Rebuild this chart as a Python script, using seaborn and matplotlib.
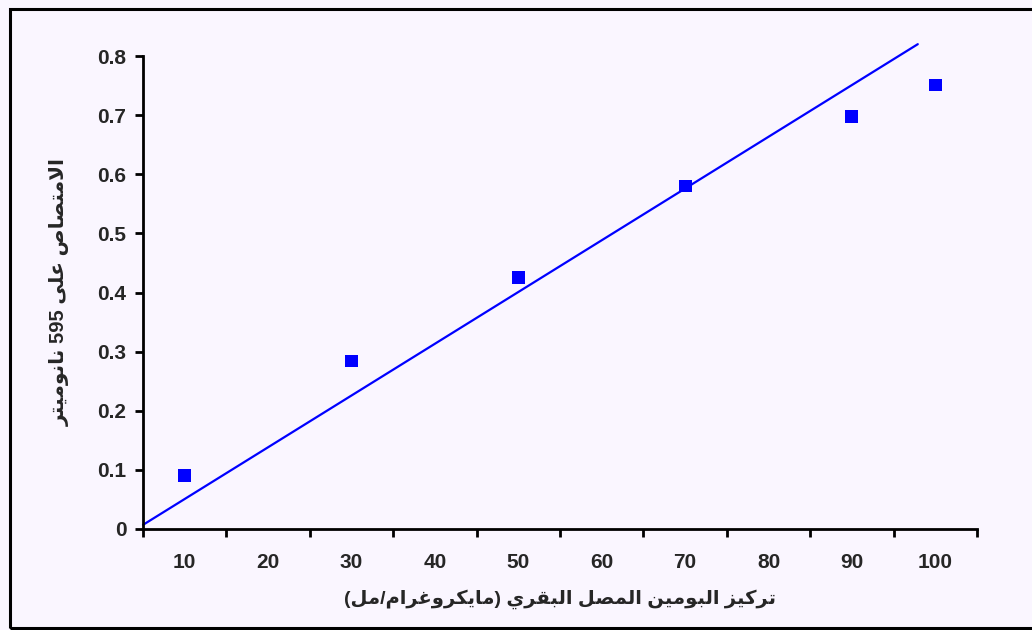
import re
import numpy as np
import pandas as pd
import matplotlib
matplotlib.use("Agg")
import matplotlib.pyplot as plt
from matplotlib.patches import Rectangle
from matplotlib.ticker import FixedLocator, FixedFormatter, NullFormatter
import seaborn as sns

# -------------------- DATOS --------------------
concentration = [10, 30, 50, 70, 90, 100]
absorbance = [0.09, 0.284, 0.426, 0.58, 0.697, 0.751]

trend_x = [5.0, 97.9]
trend_y = [0.007, 0.82]

x_tick_labels = ["10", "20", "30", "40", "50", "60", "70", "80", "90", "100"]
y_tick_values = [0, 0.1, 0.2, 0.3, 0.4, 0.5, 0.6, 0.7, 0.8]
y_tick_labels = ["0", "0.1", "0.2", "0.3", "0.4", "0.5", "0.6", "0.7", "0.8"]

x_title = "تركيز البومين المصل البقري (مايكروغرام/مل)"
y_title = "الامتصاص على 595 نانوميتر"

# -------------------- ARABIC SHAPING --------------------
# isolated, final, initial, medial
FORMS = {
    "ا": (0xFE8D, 0xFE8E, None, None),
    "أ": (0xFE83, 0xFE84, None, None),
    "إ": (0xFE87, 0xFE88, None, None),
    "ب": (0xFE8F, 0xFE90, 0xFE91, 0xFE92),
    "ت": (0xFE95, 0xFE96, 0xFE97, 0xFE98),
    "ر": (0xFEAD, 0xFEAE, None, None),
    "ز": (0xFEAF, 0xFEB0, None, None),
    "ص": (0xFEB9, 0xFEBA, 0xFEBB, 0xFEBC),
    "ع": (0xFEC9, 0xFECA, 0xFECB, 0xFECC),
    "غ": (0xFECD, 0xFECE, 0xFECF, 0xFED0),
    "ق": (0xFED5, 0xFED6, 0xFED7, 0xFED8),
    "ك": (0xFED9, 0xFEDA, 0xFEDB, 0xFEDC),
    "ل": (0xFEDD, 0xFEDE, 0xFEDF, 0xFEE0),
    "م": (0xFEE1, 0xFEE2, 0xFEE3, 0xFEE4),
    "ن": (0xFEE5, 0xFEE6, 0xFEE7, 0xFEE8),
    "و": (0xFEED, 0xFEEE, None, None),
    "ى": (0xFEEF, 0xFEF0, None, None),
    "ي": (0xFEF1, 0xFEF2, 0xFEF3, 0xFEF4),
}
LAM_ALEF = {"ا": (0xFEFB, 0xFEFC), "أ": (0xFEF7, 0xFEF8), "إ": (0xFEF9, 0xFEFA)}


def dual(c):
    return c in FORMS and FORMS[c][2] is not None


def shape(text):
    out = []
    i = 0
    while i < len(text):
        c = text[i]
        if c not in FORMS:
            out.append(c)
            i += 1
            continue
        prev_joins = i > 0 and dual(text[i - 1])
        if c == "ل" and i + 1 < len(text) and text[i + 1] in LAM_ALEF:
            iso, fin = LAM_ALEF[text[i + 1]]
            out.append(chr(fin if prev_joins else iso))
            i += 2
            continue
        next_joins = dual(c) and i + 1 < len(text) and text[i + 1] in FORMS
        iso, fin, ini, med = FORMS[c]
        if prev_joins and next_joins:
            code = med
        elif prev_joins:
            code = fin
        elif next_joins:
            code = ini
        else:
            code = iso
        out.append(chr(code))
        i += 1
    return "".join(out)


def visual(text):
    s = shape(text)[::-1]
    s = re.sub(r"\d+", lambda m: m.group(0)[::-1], s)
    return s.translate(str.maketrans("()", ")("))


# -------------------- FIGURA --------------------
sns.set_style("white")
plt.rcParams["font.family"] = ["Liberation Sans", "DejaVu Sans"]
plt.rcParams["font.weight"] = "bold"

bg = "#FAF6FF"
fig = plt.figure(figsize=(10.32, 6.3), dpi=100, facecolor=bg)
ax = fig.add_axes([143 / 1032, 101 / 630, 834 / 1032, 473 / 630])
ax.set_facecolor(bg)

df = pd.DataFrame({"conc": concentration, "abs": absorbance})
trend = pd.DataFrame({"x": trend_x, "y": trend_y})

sns.lineplot(data=trend, x="x", y="y", color="#0000FF", linewidth=1.6, ax=ax)
ax.lines[0].set_clip_on(False)
sns.scatterplot(data=df, x="conc", y="abs", marker="s", s=85, color="#0000FF",
                edgecolor="none", ax=ax, zorder=3)

ax.set_xlim(5, 105)
ax.set_ylim(0, 0.8)

ax.xaxis.set_major_locator(FixedLocator(np.arange(5, 106, 10)))
ax.xaxis.set_major_formatter(NullFormatter())
ax.xaxis.set_minor_locator(FixedLocator(np.arange(10, 101, 10)))
ax.xaxis.set_minor_formatter(FixedFormatter(x_tick_labels))
ax.tick_params(axis="x", which="major", direction="out", length=6, width=2, color="black", bottom=True)
ax.tick_params(axis="x", which="minor", length=0, pad=17, labelsize=15, bottom=True)

ax.yaxis.set_major_locator(FixedLocator(y_tick_values))
ax.yaxis.set_major_formatter(FixedFormatter(y_tick_labels))
ax.tick_params(axis="y", direction="out", length=6, width=2, color="black", pad=6, labelsize=15, left=True)

for lbl in ax.get_xticklabels(minor=True) + ax.get_yticklabels():
    lbl.set_fontweight("bold")

for side in ["top", "right"]:
    ax.spines[side].set_visible(False)
for side in ["left", "bottom"]:
    ax.spines[side].set_linewidth(2)
    ax.spines[side].set_color("black")

ax.set_xlabel(visual(x_title), fontsize=14, fontweight="bold", labelpad=13)
ax.set_ylabel(visual(y_title), fontsize=14.5, fontweight="bold", labelpad=20)

# marco exterior
fig.patches.append(Rectangle((10 / 1032, 2.5 / 630), 1.1, 619 / 630, transform=fig.transFigure,
                             fill=False, edgecolor="black", linewidth=2.2))

fig.savefig("out.png", dpi=100, facecolor=bg)
